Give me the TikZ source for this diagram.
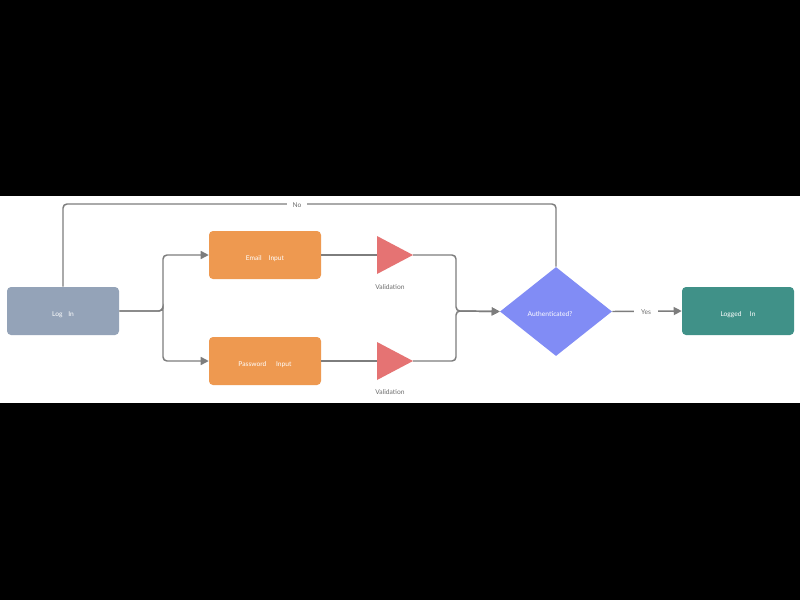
\documentclass[tikz,border=0pt]{standalone}
\usepackage{fontspec}
\setmainfont{Lato}
\usetikzlibrary{shapes.geometric,arrows.meta}
\definecolor{slate}{RGB}{148,163,184}
\definecolor{orng}{RGB}{238,153,80}
\definecolor{salmon}{RGB}{229,115,115}
\definecolor{indig}{RGB}{129,140,245}
\definecolor{tealg}{RGB}{64,145,136}
\definecolor{linec}{RGB}{125,125,125}
\definecolor{labc}{RGB}{110,110,110}
\newcommand{\lowtxt}[1]{\raisebox{-2.2pt}{#1}}
\tikzset{
  box/.style={draw=none, rounded corners=3pt, minimum width=84pt, minimum height=36pt, inner sep=0pt, text=white, font=\fontsize{5}{6}\selectfont, text height=3.6pt, text depth=0pt},
  dia/.style={diamond, fill=indig, minimum width=84pt, minimum height=66.75pt, inner sep=0pt, text=white, font=\fontsize{5}{6}\selectfont, text height=3.6pt, text depth=0pt},
  lab/.style={text=labc, font=\fontsize{5}{6}\selectfont, inner sep=1pt},
  conn/.style={draw=linec, line width=1.1pt, rounded corners=3pt},
  arr/.style={conn, -{Triangle[length=6pt,width=6pt]}},
}
\begin{document}
\begin{tikzpicture}[x=0.75pt,y=-0.75pt]
\fill[black] (0,0) rectangle (800,600);
\fill[white] (0,196) rectangle (800,403);
\useasboundingbox (0,0) rectangle (800,600);
% nodes
\node[box, fill=slate] (login) at (63,311) {\lowtxt{Log\hspace{3pt} In}};
\node[box, fill=orng] (email) at (265,255) {\lowtxt{Email\hspace{4pt} Input}};
\node[box, fill=orng] (pass) at (265,361) {\lowtxt{Password\hspace{6pt} Input}};
\node[dia] (auth) at (556,311.5) {\lowtxt{Authenticated?\hspace*{9pt}}};
\node[box, fill=tealg] (logged) at (738,311) {\lowtxt{Logged\hspace{5pt} In}};
% triangles
\fill[salmon] (377,236) -- (413,255) -- (377,274) -- cycle;
\fill[salmon] (377,342) -- (413,361) -- (377,380) -- cycle;
\coordinate (v1in) at (377,255);
\coordinate (v1out) at (413,255);
\coordinate (v2in) at (377,361);
\coordinate (v2out) at (413,361);
\node[lab] (val1) at (390,287) {Validation};
\node[lab] (val2) at (390,392.5) {Validation};
% connectors
\draw[arr] (login.east) -| (163,311) |- (email.west);
\draw[arr] (login.east) -| (163,311) |- (pass.west);
\draw[conn] (email.east) -- (v1in);
\draw[conn] (pass.east) -- (v2in);
\draw[arr] (v1out) -| (456,311) -- (auth.west);
\draw[arr] (v2out) -| (456,311) -- (auth.west);
\draw[conn] (login.north) |- (300,204) -| (auth.north);
\node[lab, fill=white, inner xsep=4pt] (no) at (297,205.5) {No};
\draw[arr] (auth.east) -- (logged.west);
\node[lab, fill=white, inner xsep=5pt] (yes) at (646,312.5) {Yes};
\end{tikzpicture}
\end{document}
